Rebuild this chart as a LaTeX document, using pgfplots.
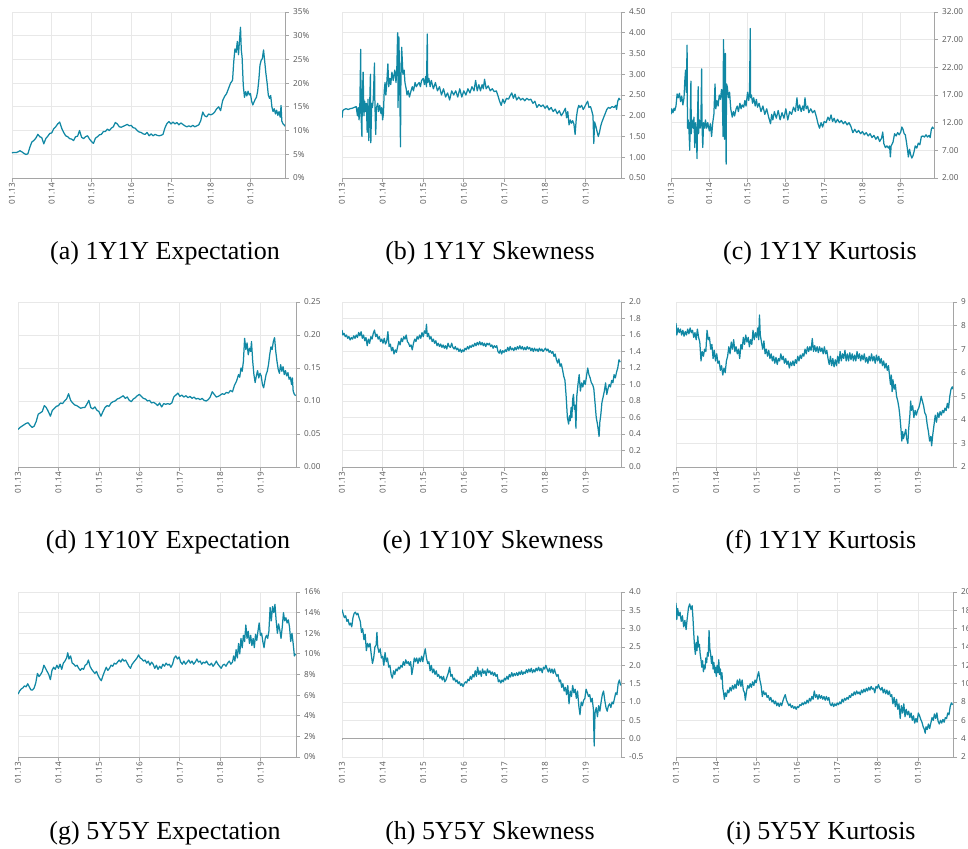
\documentclass[border=0pt]{standalone}
\usepackage{pgfplots}
\pgfplotsset{compat=1.18}
\usepackage{fontspec}
\setmainfont{Liberation Serif}
\newfontfamily\tickfont{Open Sans}
\definecolor{seriesc}{RGB}{17,136,164}
\definecolor{gridc}{RGB}{232,232,232}
\definecolor{axisc}{RGB}{165,165,165}
\definecolor{labc}{RGB}{85,85,85}
\pgfplotsset{
  panel/.style={
    scale only axis,
    anchor=south west,
    xmin=0, xmax=6.87,
    xtick={0,1,2,3,4,5,6},
    xticklabels={01.13,01.14,01.15,01.16,01.17,01.18,01.19},
    axis x line*=bottom,
    axis y line*=right,
    axis line style={axisc,-,line width=0.8pt},
    grid=major,
    grid style={gridc, line width=0.8pt},
    tick align=outside,
    major tick length=4pt,
    tick style={axisc, line width=0.8pt},
    ticklabel style={font=\tickfont\fontsize{8.2}{9.5}\selectfont, text=labc},
    xticklabel style={rotate=90, anchor=east, inner sep=1pt},
    yticklabel style={anchor=west, inner sep=2pt, xshift=2pt},
    every axis plot post/.append style={draw=seriesc, line width=1.25pt, mark=none, line join=round},
  },
}
\tikzset{captxt/.style={anchor=base, font=\fontsize{26}{30}\selectfont}}
\begin{document}
\begin{tikzpicture}[x=1pt,y=1pt]
\useasboundingbox (0,0) rectangle (968,848);
% (a)
\begin{axis}[panel, at={(12pt,670pt)}, width=273pt, height=166pt,
  ymin=0, ymax=35, ytick={0,5,10,15,20,25,30,35},
  yticklabels={0\%,5\%,10\%,15\%,20\%,25\%,30\%,35\%}]
\addplot coordinates {(0,5.3)(0.05,5.4)(0.1,5.35)(0.15,5.5)(0.2,5.75)(0.25,5.5)(0.3,5.2)(0.35,4.95)(0.4,5.1)(0.45,6.5)(0.5,7.6)(0.55,7.9)(0.6,8.4)(0.65,9.2)(0.7,8.7)(0.75,8.5)(0.8,7.2)(0.85,8.3)(0.9,8.8)(0.95,9.4)(1.0,9.5)(1.05,10.4)(1.1,10.8)(1.15,11.4)(1.2,11.8)(1.25,10.5)(1.3,9.6)(1.35,8.9)(1.4,8.7)(1.45,8.3)(1.5,8.2)(1.55,7.9)(1.6,8.7)(1.65,8.8)(1.7,10.0)(1.75,8.6)(1.8,8.3)(1.85,8.7)(1.9,8.9)(1.95,8.2)(2.0,7.7)(2.05,7.3)(2.1,8.4)(2.15,8.7)(2.2,9.1)(2.25,9.2)(2.3,9.8)(2.35,9.8)(2.4,10.3)(2.45,10.0)(2.5,10.5)(2.55,10.8)(2.6,11.7)(2.65,11.4)(2.7,10.8)(2.75,10.7)(2.8,10.9)(2.85,11.1)(2.9,11.3)(2.95,11.0)(3.0,11.1)(3.05,10.6)(3.1,10.5)(3.15,10.0)(3.2,9.7)(3.25,9.6)(3.3,9.3)(3.35,9.2)(3.4,9.6)(3.45,8.9)(3.5,9.3)(3.55,8.9)(3.6,9.2)(3.65,9.0)(3.7,8.9)(3.75,9.0)(3.8,9.2)(3.85,10.6)(3.9,11.5)(3.95,11.9)(4.0,11.4)(4.05,11.8)(4.1,11.4)(4.15,11.7)(4.2,11.2)(4.25,11.6)(4.3,11.3)(4.35,11.0)(4.4,10.8)(4.45,11.0)(4.5,10.8)(4.55,11.1)(4.6,10.8)(4.65,11.0)(4.7,11.2)(4.75,12.1)(4.8,13.9)(4.85,13.1)(4.9,12.9)(4.95,13.5)(5.0,13.3)(5.05,13.5)(5.1,13.9)(5.15,14.6)(5.2,15.0)(5.25,14.2)(5.3,16.3)(5.35,17.2)(5.4,17.8)(5.45,18.9)(5.5,20.0)(5.55,20.6)(5.58,24.5)(5.61,27.2)(5.64,26.5)(5.67,28.8)(5.7,26.0)(5.72,28.5)(5.75,31.8)(5.77,27.0)(5.79,25.5)(5.82,19.5)(5.85,17.0)(5.88,18.2)(5.91,17.3)(5.94,18.3)(5.97,17.5)(6.0,17.8)(6.03,16.2)(6.06,15.4)(6.09,16.0)(6.12,16.6)(6.15,17.0)(6.18,18.2)(6.21,20.5)(6.24,23.8)(6.27,24.8)(6.3,25.2)(6.33,27.0)(6.36,24.5)(6.39,22.0)(6.42,20.0)(6.45,17.5)(6.48,16.8)(6.51,17.4)(6.54,15.0)(6.57,14.0)(6.6,14.6)(6.63,13.5)(6.66,14.3)(6.69,13.2)(6.72,14.0)(6.75,12.8)(6.77,15.3)(6.79,12.0)(6.82,11.4)(6.85,11.2)(6.87,10.9)};
\end{axis}
% (b)
\begin{axis}[panel, at={(342pt,670pt)}, width=279pt, height=166pt,
  ymin=0.5, ymax=4.5, ytick={0.5,1,1.5,2,2.5,3,3.5,4,4.5},
  yticklabels={0.50,1.00,1.50,2.00,2.50,3.00,3.50,4.00,4.50}]
\addplot coordinates {(0,1.95)(0.02,2.12)(0.05,2.15)(0.1,2.17)(0.15,2.15)(0.2,2.17)(0.25,2.18)(0.3,2.2)(0.35,2.22)(0.38,2.0)(0.4,2.2)(0.42,1.9)(0.44,2.3)(0.46,3.6)(0.47,2.0)(0.49,1.5)(0.5,2.4)(0.52,3.05)(0.54,2.0)(0.56,2.35)(0.58,2.1)(0.6,2.3)(0.62,1.6)(0.64,2.4)(0.66,1.4)(0.68,2.2)(0.7,3.0)(0.71,1.35)(0.73,2.3)(0.75,2.2)(0.77,2.4)(0.8,3.27)(0.81,2.3)(0.83,1.55)(0.85,2.2)(0.88,2.3)(0.9,2.1)(0.93,2.25)(0.96,2.05)(0.98,2.2)(1.0,1.9)(1.02,2.05)(1.04,2.6)(1.06,2.8)(1.08,2.5)(1.1,2.75)(1.13,3.25)(1.15,2.7)(1.18,2.9)(1.2,2.75)(1.23,3.05)(1.26,2.85)(1.3,3.1)(1.33,2.8)(1.35,3.15)(1.37,4.0)(1.38,2.2)(1.4,3.9)(1.42,2.9)(1.44,1.25)(1.45,2.8)(1.47,3.65)(1.5,3.0)(1.53,3.1)(1.55,2.8)(1.58,2.65)(1.6,2.5)(1.63,2.6)(1.66,2.45)(1.7,2.6)(1.73,2.7)(1.76,2.6)(1.8,2.8)(1.83,2.7)(1.86,2.75)(1.9,2.8)(1.93,2.7)(1.96,2.85)(2.0,2.9)(2.03,2.75)(2.06,2.95)(2.08,2.7)(2.1,3.97)(2.11,2.8)(2.14,2.9)(2.17,2.7)(2.2,2.85)(2.25,2.65)(2.3,2.8)(2.35,2.6)(2.4,2.7)(2.45,2.5)(2.5,2.65)(2.55,2.45)(2.6,2.55)(2.65,2.38)(2.7,2.6)(2.75,2.5)(2.8,2.6)(2.85,2.45)(2.9,2.65)(2.95,2.45)(3.0,2.6)(3.05,2.5)(3.1,2.65)(3.15,2.55)(3.2,2.7)(3.25,2.6)(3.29,2.85)(3.33,2.6)(3.37,2.75)(3.41,2.6)(3.45,2.75)(3.48,2.65)(3.51,2.88)(3.55,2.65)(3.6,2.72)(3.65,2.6)(3.7,2.65)(3.75,2.58)(3.8,2.6)(3.85,2.45)(3.88,2.35)(3.92,2.25)(3.96,2.4)(4.0,2.3)(4.05,2.42)(4.1,2.4)(4.15,2.5)(4.18,2.55)(4.22,2.42)(4.26,2.52)(4.3,2.38)(4.35,2.45)(4.4,2.38)(4.45,2.42)(4.5,2.36)(4.55,2.42)(4.6,2.38)(4.65,2.4)(4.7,2.3)(4.75,2.35)(4.8,2.2)(4.85,2.27)(4.9,2.22)(4.95,2.26)(5.0,2.18)(5.05,2.24)(5.1,2.14)(5.15,2.2)(5.2,2.1)(5.25,2.16)(5.3,2.05)(5.35,2.12)(5.4,2.0)(5.45,2.08)(5.5,2.18)(5.53,1.95)(5.56,2.1)(5.59,1.78)(5.62,1.9)(5.65,1.82)(5.68,1.88)(5.71,1.8)(5.74,1.55)(5.77,1.95)(5.8,2.15)(5.83,2.25)(5.86,2.2)(5.9,2.25)(5.94,2.15)(5.98,2.22)(6.02,2.3)(6.05,2.35)(6.08,2.2)(6.12,2.22)(6.15,2.12)(6.18,2.0)(6.2,1.33)(6.22,1.85)(6.25,1.75)(6.28,1.62)(6.31,1.5)(6.34,1.6)(6.37,1.75)(6.4,1.85)(6.44,1.95)(6.48,2.05)(6.52,2.15)(6.56,2.2)(6.6,2.18)(6.65,2.22)(6.7,2.2)(6.74,2.25)(6.76,2.15)(6.79,2.35)(6.82,2.42)(6.85,2.38)};
\end{axis}
% (c)
\begin{axis}[panel, at={(671pt,670pt)}, width=263pt, height=166pt,
  ymin=2, ymax=32, ytick={2,7,12,17,22,27,32},
  yticklabels={2.00,7.00,12.00,17.00,22.00,27.00,32.00}]
\addplot coordinates {(0,13.5)(0.02,14.5)(0.05,13.8)(0.08,14.6)(0.1,14.2)(0.13,15.0)(0.16,17.2)(0.19,16.5)(0.22,17.3)(0.25,15.8)(0.28,16.8)(0.31,15.2)(0.34,16.5)(0.36,19.5)(0.38,21.5)(0.4,17.5)(0.42,26.0)(0.43,11.0)(0.45,12.5)(0.47,10.5)(0.49,7.0)(0.5,12.5)(0.52,19.5)(0.53,10.0)(0.55,12.5)(0.58,11.0)(0.6,13.0)(0.62,7.5)(0.64,12.0)(0.66,10.5)(0.68,5.5)(0.69,12.0)(0.71,18.5)(0.72,10.0)(0.74,12.5)(0.76,11.0)(0.78,12.0)(0.8,21.7)(0.81,11.5)(0.83,7.5)(0.85,12.0)(0.88,11.0)(0.9,12.5)(0.93,11.0)(0.96,12.0)(1.0,10.5)(1.03,11.8)(1.06,9.5)(1.09,12.0)(1.12,13.5)(1.15,19.0)(1.17,14.5)(1.2,16.0)(1.23,15.0)(1.26,17.0)(1.29,16.2)(1.32,18.0)(1.34,17.0)(1.36,9.5)(1.37,27.0)(1.39,19.0)(1.4,9.0)(1.42,24.5)(1.44,4.5)(1.45,19.0)(1.47,18.5)(1.5,16.5)(1.53,17.5)(1.56,14.5)(1.6,13.0)(1.63,14.0)(1.66,13.2)(1.7,14.5)(1.73,15.0)(1.76,14.0)(1.8,15.5)(1.83,14.5)(1.86,15.2)(1.9,14.8)(1.93,16.0)(1.96,15.0)(2.0,17.5)(2.03,16.0)(2.05,17.2)(2.07,29.0)(2.08,16.5)(2.1,17.0)(2.13,15.5)(2.16,16.5)(2.2,15.0)(2.23,16.2)(2.26,14.8)(2.3,15.5)(2.35,14.0)(2.4,15.0)(2.45,13.5)(2.5,14.5)(2.55,13.0)(2.6,11.8)(2.63,13.5)(2.66,12.5)(2.7,14.0)(2.75,12.8)(2.8,14.2)(2.85,12.5)(2.9,13.8)(2.95,12.8)(3.0,14.5)(3.05,12.5)(3.1,14.0)(3.15,13.5)(3.2,14.8)(3.25,14.0)(3.29,16.5)(3.32,14.2)(3.36,15.2)(3.4,14.0)(3.44,15.0)(3.47,14.2)(3.5,16.5)(3.53,14.5)(3.57,15.0)(3.6,13.8)(3.65,14.5)(3.7,13.8)(3.75,14.2)(3.8,13.0)(3.84,11.8)(3.88,11.0)(3.92,12.0)(3.96,11.2)(4.0,12.2)(4.05,12.0)(4.1,13.0)(4.14,12.4)(4.18,13.4)(4.22,12.2)(4.26,12.8)(4.3,12.0)(4.35,12.6)(4.4,12.0)(4.45,12.4)(4.5,11.8)(4.55,12.2)(4.6,11.6)(4.65,12.0)(4.7,11.3)(4.75,10.2)(4.8,10.8)(4.85,10.2)(4.9,10.6)(4.95,10.0)(5.0,10.4)(5.05,9.8)(5.1,10.2)(5.15,9.6)(5.2,10.0)(5.25,9.3)(5.3,9.7)(5.35,9.0)(5.4,9.5)(5.45,8.6)(5.5,9.2)(5.53,10.3)(5.56,8.2)(5.6,7.5)(5.64,7.8)(5.68,7.4)(5.71,7.8)(5.73,5.8)(5.75,7.8)(5.8,8.5)(5.84,10.0)(5.88,9.6)(5.92,10.2)(5.96,9.8)(6.0,10.3)(6.03,11.2)(6.06,10.8)(6.09,10.0)(6.12,9.8)(6.15,8.5)(6.18,7.0)(6.2,5.8)(6.23,7.2)(6.26,6.2)(6.29,5.6)(6.32,6.0)(6.35,6.8)(6.38,7.8)(6.42,7.4)(6.46,8.3)(6.5,8.0)(6.54,9.5)(6.58,9.6)(6.62,9.4)(6.66,9.8)(6.7,9.4)(6.74,9.7)(6.77,9.3)(6.8,10.8)(6.83,11.2)(6.86,10.9)};
\end{axis}
% (d)
\begin{axis}[panel, at={(18pt,381pt)}, width=278pt, height=165pt,
  ymin=0, ymax=0.25, ytick={0,0.05,0.1,0.15,0.2,0.25},
  yticklabels={0.00,0.05,0.10,0.15,0.20,0.25}]
\addplot coordinates {(0,0.057)(0.05,0.06)(0.1,0.062)(0.15,0.064)(0.2,0.066)(0.25,0.067)(0.3,0.063)(0.35,0.06)(0.4,0.062)(0.45,0.069)(0.5,0.08)(0.55,0.082)(0.6,0.084)(0.65,0.093)(0.7,0.09)(0.75,0.084)(0.8,0.077)(0.85,0.086)(0.9,0.089)(0.95,0.092)(1.0,0.093)(1.05,0.097)(1.1,0.096)(1.15,0.1)(1.2,0.103)(1.25,0.111)(1.3,0.101)(1.35,0.097)(1.4,0.094)(1.45,0.093)(1.5,0.091)(1.55,0.089)(1.6,0.09)(1.65,0.09)(1.7,0.095)(1.75,0.101)(1.8,0.09)(1.85,0.088)(1.9,0.091)(1.95,0.086)(2.0,0.084)(2.05,0.077)(2.1,0.084)(2.15,0.09)(2.2,0.093)(2.25,0.092)(2.3,0.097)(2.35,0.099)(2.4,0.1)(2.45,0.103)(2.5,0.104)(2.55,0.106)(2.6,0.108)(2.65,0.104)(2.7,0.106)(2.75,0.101)(2.8,0.099)(2.85,0.103)(2.9,0.105)(2.95,0.108)(3.0,0.11)(3.05,0.107)(3.1,0.104)(3.15,0.103)(3.2,0.1)(3.25,0.101)(3.3,0.097)(3.35,0.098)(3.4,0.096)(3.45,0.093)(3.5,0.097)(3.55,0.091)(3.6,0.096)(3.65,0.095)(3.7,0.096)(3.75,0.095)(3.8,0.097)(3.85,0.106)(3.9,0.109)(3.95,0.112)(4.0,0.107)(4.05,0.109)(4.1,0.106)(4.15,0.108)(4.2,0.105)(4.25,0.107)(4.3,0.104)(4.35,0.106)(4.4,0.103)(4.45,0.104)(4.5,0.102)(4.55,0.104)(4.6,0.101)(4.65,0.1)(4.7,0.102)(4.75,0.106)(4.8,0.114)(4.85,0.11)(4.9,0.106)(4.95,0.107)(5.0,0.109)(5.05,0.111)(5.1,0.11)(5.15,0.113)(5.2,0.112)(5.25,0.116)(5.3,0.114)(5.35,0.124)(5.4,0.13)(5.45,0.14)(5.48,0.136)(5.51,0.15)(5.54,0.145)(5.57,0.16)(5.6,0.195)(5.63,0.178)(5.66,0.188)(5.69,0.17)(5.72,0.18)(5.75,0.175)(5.77,0.19)(5.8,0.16)(5.83,0.14)(5.86,0.128)(5.89,0.138)(5.92,0.146)(5.95,0.135)(5.98,0.142)(6.01,0.138)(6.04,0.125)(6.07,0.12)(6.1,0.13)(6.13,0.14)(6.16,0.145)(6.19,0.155)(6.22,0.17)(6.25,0.182)(6.28,0.178)(6.31,0.19)(6.34,0.196)(6.37,0.175)(6.4,0.16)(6.43,0.148)(6.46,0.142)(6.49,0.155)(6.52,0.145)(6.55,0.152)(6.58,0.14)(6.61,0.146)(6.64,0.138)(6.67,0.143)(6.7,0.133)(6.73,0.136)(6.76,0.125)(6.78,0.135)(6.8,0.115)(6.83,0.11)(6.86,0.108)};
\end{axis}
% (e)
\begin{axis}[panel, at={(342pt,381pt)}, width=279pt, height=165pt,
  ymin=0, ymax=2, ytick={0,0.2,0.4,0.6,0.8,1,1.2,1.4,1.6,1.8,2},
  yticklabels={0.0,0.2,0.4,0.6,0.8,1.0,1.2,1.4,1.6,1.8,2.0}]
\addplot coordinates {(0,1.66)(0.02,1.6)(0.05,1.62)(0.08,1.58)(0.11,1.6)(0.14,1.56)(0.17,1.58)(0.2,1.54)(0.23,1.57)(0.26,1.55)(0.29,1.59)(0.32,1.56)(0.35,1.6)(0.38,1.57)(0.41,1.63)(0.44,1.59)(0.47,1.64)(0.5,1.56)(0.53,1.6)(0.56,1.53)(0.59,1.57)(0.62,1.47)(0.65,1.55)(0.68,1.5)(0.71,1.58)(0.74,1.55)(0.77,1.62)(0.8,1.66)(0.83,1.58)(0.86,1.61)(0.89,1.55)(0.92,1.58)(0.95,1.52)(0.98,1.55)(1.01,1.5)(1.04,1.56)(1.07,1.49)(1.1,1.52)(1.13,1.64)(1.16,1.46)(1.19,1.49)(1.22,1.41)(1.25,1.45)(1.28,1.37)(1.31,1.42)(1.34,1.39)(1.37,1.46)(1.4,1.52)(1.43,1.48)(1.46,1.56)(1.49,1.52)(1.52,1.58)(1.55,1.55)(1.58,1.6)(1.61,1.52)(1.64,1.5)(1.67,1.46)(1.7,1.48)(1.73,1.42)(1.76,1.5)(1.79,1.55)(1.82,1.52)(1.85,1.58)(1.88,1.55)(1.91,1.6)(1.94,1.56)(1.97,1.63)(2.0,1.58)(2.03,1.65)(2.06,1.62)(2.08,1.73)(2.1,1.58)(2.13,1.62)(2.16,1.55)(2.19,1.58)(2.22,1.52)(2.25,1.55)(2.28,1.5)(2.31,1.53)(2.34,1.47)(2.37,1.5)(2.4,1.46)(2.43,1.49)(2.46,1.45)(2.49,1.48)(2.52,1.44)(2.55,1.47)(2.58,1.43)(2.61,1.5)(2.64,1.46)(2.67,1.45)(2.7,1.5)(2.73,1.45)(2.76,1.43)(2.79,1.46)(2.82,1.42)(2.85,1.44)(2.88,1.4)(2.91,1.43)(2.94,1.39)(2.97,1.42)(3.0,1.4)(3.03,1.44)(3.06,1.42)(3.09,1.46)(3.12,1.43)(3.15,1.47)(3.18,1.45)(3.21,1.48)(3.24,1.46)(3.27,1.5)(3.3,1.47)(3.33,1.51)(3.36,1.48)(3.39,1.52)(3.42,1.48)(3.45,1.51)(3.48,1.47)(3.51,1.5)(3.54,1.46)(3.57,1.5)(3.6,1.48)(3.63,1.5)(3.66,1.46)(3.69,1.48)(3.72,1.44)(3.75,1.47)(3.78,1.45)(3.81,1.47)(3.84,1.4)(3.87,1.38)(3.9,1.42)(3.93,1.37)(3.96,1.41)(3.99,1.39)(4.02,1.42)(4.05,1.4)(4.08,1.45)(4.11,1.41)(4.14,1.46)(4.17,1.42)(4.2,1.44)(4.23,1.41)(4.26,1.45)(4.29,1.42)(4.32,1.46)(4.35,1.43)(4.38,1.47)(4.41,1.43)(4.44,1.46)(4.47,1.42)(4.5,1.45)(4.53,1.42)(4.56,1.46)(4.59,1.43)(4.62,1.45)(4.65,1.41)(4.68,1.44)(4.71,1.4)(4.74,1.44)(4.77,1.41)(4.8,1.43)(4.83,1.4)(4.86,1.44)(4.89,1.41)(4.92,1.43)(4.95,1.4)(4.98,1.42)(5.01,1.44)(5.04,1.41)(5.07,1.43)(5.1,1.39)(5.13,1.41)(5.16,1.38)(5.19,1.4)(5.22,1.34)(5.25,1.37)(5.28,1.3)(5.31,1.26)(5.34,1.31)(5.37,1.22)(5.4,1.25)(5.43,1.18)(5.46,1.1)(5.49,1.05)(5.52,0.85)(5.55,0.6)(5.58,0.52)(5.6,0.62)(5.62,0.56)(5.64,0.72)(5.66,0.6)(5.68,0.82)(5.7,0.88)(5.72,0.7)(5.74,0.75)(5.76,0.47)(5.78,0.85)(5.81,1.0)(5.84,1.12)(5.87,0.92)(5.9,1.02)(5.93,0.97)(5.96,1.05)(5.99,1.0)(6.02,1.1)(6.05,1.2)(6.08,1.12)(6.11,1.08)(6.14,1.02)(6.17,1.0)(6.2,0.95)(6.23,0.78)(6.26,0.6)(6.29,0.52)(6.31,0.45)(6.33,0.37)(6.35,0.55)(6.37,0.62)(6.4,0.78)(6.43,0.85)(6.46,0.92)(6.49,1.02)(6.52,0.88)(6.55,0.95)(6.58,1.0)(6.61,0.97)(6.64,1.05)(6.67,1.02)(6.7,1.12)(6.73,1.08)(6.76,1.15)(6.79,1.2)(6.82,1.3)(6.85,1.27)};
\end{axis}
% (f)
\begin{axis}[panel, at={(676pt,381pt)}, width=277pt, height=165pt,
  ymin=2, ymax=9, ytick={2,3,4,5,6,7,8,9},
  yticklabels={2,3,4,5,6,7,8,9}]
\addplot coordinates {(0,8.1)(0.02,7.6)(0.05,7.9)(0.08,7.7)(0.11,7.85)(0.14,7.6)(0.17,7.8)(0.2,7.55)(0.23,7.75)(0.26,7.6)(0.29,7.85)(0.32,7.65)(0.35,7.9)(0.38,7.7)(0.41,7.8)(0.44,7.5)(0.47,7.7)(0.5,7.4)(0.53,7.85)(0.56,7.5)(0.59,7.3)(0.62,6.5)(0.65,6.9)(0.68,6.7)(0.71,7.0)(0.74,6.9)(0.77,7.8)(0.8,7.4)(0.83,7.5)(0.86,7.0)(0.89,7.2)(0.92,6.6)(0.95,6.95)(0.98,6.5)(1.01,6.8)(1.04,6.4)(1.07,6.5)(1.1,6.1)(1.13,6.3)(1.16,5.9)(1.19,6.2)(1.22,6.0)(1.25,6.5)(1.28,6.7)(1.31,7.1)(1.34,6.8)(1.37,7.3)(1.4,7.0)(1.43,7.4)(1.46,6.9)(1.49,7.1)(1.52,6.8)(1.55,7.0)(1.58,6.6)(1.61,7.2)(1.64,7.0)(1.67,7.5)(1.7,7.2)(1.73,7.6)(1.76,7.3)(1.79,7.5)(1.82,7.1)(1.85,7.4)(1.88,7.2)(1.91,7.8)(1.94,7.4)(1.97,7.7)(2.0,7.5)(2.03,7.9)(2.05,7.4)(2.07,8.45)(2.09,7.6)(2.12,7.3)(2.15,7.0)(2.18,7.35)(2.21,6.8)(2.24,7.0)(2.27,6.7)(2.3,6.95)(2.33,6.6)(2.36,6.8)(2.39,6.5)(2.42,6.7)(2.45,6.4)(2.48,6.65)(2.51,6.35)(2.54,6.6)(2.57,6.5)(2.6,6.8)(2.63,6.55)(2.66,6.7)(2.69,6.4)(2.72,6.6)(2.75,6.35)(2.78,6.5)(2.81,6.2)(2.84,6.45)(2.87,6.3)(2.9,6.5)(2.93,6.3)(2.96,6.55)(2.99,6.4)(3.02,6.7)(3.05,6.5)(3.08,6.75)(3.11,6.6)(3.14,6.8)(3.17,6.7)(3.2,7.0)(3.23,6.8)(3.26,7.1)(3.29,6.9)(3.32,7.1)(3.35,6.95)(3.38,7.45)(3.41,6.9)(3.44,7.15)(3.47,6.9)(3.5,7.1)(3.53,6.85)(3.56,7.1)(3.59,6.9)(3.62,7.05)(3.65,6.8)(3.68,7.1)(3.71,6.8)(3.74,6.95)(3.77,6.6)(3.8,6.35)(3.83,6.7)(3.86,6.3)(3.89,6.6)(3.92,6.25)(3.95,6.55)(3.98,6.3)(4.01,6.7)(4.04,6.4)(4.07,6.9)(4.1,6.5)(4.13,6.8)(4.16,6.6)(4.19,6.95)(4.22,6.5)(4.25,6.8)(4.28,6.5)(4.31,6.85)(4.34,6.55)(4.37,6.8)(4.4,6.5)(4.43,6.75)(4.46,6.5)(4.49,6.9)(4.52,6.6)(4.55,6.8)(4.58,6.5)(4.61,6.75)(4.64,6.55)(4.67,6.8)(4.7,6.45)(4.73,6.65)(4.76,6.4)(4.79,6.7)(4.82,6.5)(4.85,6.8)(4.88,6.5)(4.91,6.7)(4.94,6.4)(4.97,6.75)(5.0,6.5)(5.03,6.7)(5.06,6.4)(5.09,6.6)(5.12,6.3)(5.15,6.5)(5.18,6.2)(5.21,6.4)(5.24,6.1)(5.27,6.3)(5.3,5.8)(5.32,5.5)(5.34,5.9)(5.36,5.2)(5.38,5.7)(5.41,5.3)(5.44,5.5)(5.47,5.0)(5.5,4.8)(5.53,4.5)(5.55,4.2)(5.58,3.6)(5.6,3.1)(5.62,3.5)(5.64,3.2)(5.67,3.4)(5.7,3.6)(5.72,3.2)(5.75,3.0)(5.77,3.6)(5.8,4.2)(5.82,4.8)(5.84,4.4)(5.87,4.6)(5.9,4.1)(5.93,4.4)(5.96,4.2)(5.99,4.4)(6.02,4.5)(6.05,4.7)(6.08,5.0)(6.11,4.8)(6.14,4.6)(6.17,4.3)(6.2,4.2)(6.23,3.8)(6.26,3.5)(6.29,3.1)(6.32,3.3)(6.34,2.9)(6.37,3.4)(6.4,3.8)(6.43,4.2)(6.46,3.9)(6.49,4.3)(6.52,4.1)(6.55,4.35)(6.58,4.2)(6.61,4.4)(6.64,4.3)(6.67,4.5)(6.7,4.4)(6.73,4.7)(6.76,4.5)(6.79,5.0)(6.82,5.3)(6.85,5.4)(6.87,5.3)};
\end{axis}
% (g)
\begin{axis}[panel, at={(18pt,91pt)}, width=278pt, height=165pt,
  ymin=0, ymax=16, ytick={0,2,4,6,8,10,12,14,16},
  yticklabels={0\%,2\%,4\%,6\%,8\%,10\%,12\%,14\%,16\%}]
\addplot coordinates {(0,6.1)(0.04,6.4)(0.08,6.6)(0.12,6.7)(0.16,6.9)(0.2,6.8)(0.24,7.1)(0.28,6.8)(0.32,6.5)(0.36,6.5)(0.4,6.7)(0.44,7.2)(0.48,8.1)(0.52,7.8)(0.56,8.0)(0.6,8.3)(0.64,8.9)(0.68,8.6)(0.72,8.3)(0.76,8.0)(0.8,7.5)(0.84,8.4)(0.88,8.7)(0.92,8.5)(0.96,8.9)(1.0,8.6)(1.04,9.0)(1.08,8.5)(1.12,9.1)(1.16,9.3)(1.2,9.6)(1.23,10.1)(1.26,9.5)(1.3,9.8)(1.34,9.1)(1.38,9.0)(1.42,8.8)(1.46,8.9)(1.5,8.6)(1.54,8.4)(1.58,8.6)(1.62,8.5)(1.66,8.9)(1.7,9.0)(1.74,9.4)(1.78,8.8)(1.82,8.5)(1.86,8.3)(1.9,8.1)(1.94,8.3)(1.98,7.9)(2.02,7.6)(2.06,7.4)(2.1,7.9)(2.14,8.3)(2.18,8.7)(2.22,8.4)(2.26,8.6)(2.3,8.9)(2.34,8.8)(2.38,9.1)(2.42,9.0)(2.46,9.2)(2.5,9.4)(2.54,9.2)(2.58,9.5)(2.62,9.3)(2.66,9.4)(2.7,9.1)(2.74,8.8)(2.78,8.6)(2.82,9.0)(2.86,9.2)(2.9,9.4)(2.94,9.6)(2.98,9.9)(3.02,9.6)(3.06,9.5)(3.1,9.3)(3.14,9.4)(3.18,9.1)(3.22,9.3)(3.26,8.9)(3.3,9.2)(3.34,9.0)(3.38,8.6)(3.42,8.9)(3.46,8.5)(3.5,8.8)(3.54,8.6)(3.58,9.0)(3.62,8.8)(3.66,9.1)(3.7,8.9)(3.74,9.0)(3.78,8.7)(3.82,9.0)(3.86,9.6)(3.9,9.8)(3.94,9.5)(3.98,9.7)(4.02,9.2)(4.06,9.0)(4.1,9.3)(4.14,9.0)(4.18,9.2)(4.22,9.4)(4.26,9.1)(4.3,9.3)(4.34,9.0)(4.38,9.2)(4.42,9.5)(4.46,9.2)(4.5,9.3)(4.54,9.0)(4.58,9.2)(4.62,9.1)(4.66,9.3)(4.7,9.0)(4.74,8.9)(4.78,9.1)(4.82,8.8)(4.86,9.0)(4.9,9.3)(4.94,9.0)(4.98,8.8)(5.02,8.6)(5.06,8.9)(5.1,9.0)(5.14,8.8)(5.18,9.1)(5.22,9.3)(5.26,9.0)(5.3,9.2)(5.33,9.8)(5.36,9.3)(5.39,10.4)(5.42,9.6)(5.45,11.0)(5.48,10.0)(5.51,11.5)(5.54,10.6)(5.57,11.8)(5.6,11.2)(5.63,12.8)(5.66,11.5)(5.69,12.2)(5.72,11.0)(5.75,11.8)(5.78,10.8)(5.81,11.5)(5.84,10.6)(5.87,11.9)(5.9,11.3)(5.93,12.2)(5.96,13.0)(5.99,11.8)(6.02,12.0)(6.05,11.2)(6.08,10.6)(6.11,11.5)(6.14,11.8)(6.17,11.5)(6.2,12.2)(6.23,14.5)(6.26,13.2)(6.29,14.6)(6.32,14.0)(6.35,14.8)(6.38,13.2)(6.41,12.0)(6.44,12.9)(6.47,12.3)(6.5,11.5)(6.53,12.6)(6.56,14.0)(6.59,13.2)(6.62,13.5)(6.65,13.0)(6.68,13.3)(6.71,12.6)(6.74,11.2)(6.77,12.0)(6.8,11.0)(6.83,9.8)(6.86,10.0)};
\end{axis}
% (h)
\begin{axis}[panel, at={(342pt,91pt)}, width=279pt, height=165pt,
  ymin=-0.5, ymax=4, ytick={-0.5,0,0.5,1,1.5,2,2.5,3,3.5,4},
  yticklabels={-0.5,0.0,0.5,1.0,1.5,2.0,2.5,3.0,3.5,4.0},
  x axis line style={draw=none}, xtick style={draw=none}]
\draw[axisc, line width=0.8pt] (axis cs:0,0) -- (axis cs:6.87,0);
\pgfplotsinvokeforeach{0,1,2,3,4,5,6}{\draw[axisc, line width=0.8pt] (axis cs:#1,0) -- (axis cs:#1,-0.035);}
\addplot coordinates {(0,3.52)(0.03,3.4)(0.06,3.3)(0.09,3.35)(0.12,3.2)(0.15,3.25)(0.18,3.1)(0.21,3.15)(0.24,3.05)(0.27,3.3)(0.3,3.42)(0.33,3.45)(0.36,3.38)(0.39,3.42)(0.42,3.3)(0.45,3.2)(0.48,2.9)(0.51,3.0)(0.54,2.7)(0.57,2.85)(0.6,2.4)(0.63,2.6)(0.66,2.5)(0.69,2.6)(0.72,2.3)(0.75,2.05)(0.78,2.2)(0.81,2.5)(0.84,2.55)(0.86,2.9)(0.88,2.5)(0.91,2.35)(0.94,2.45)(0.97,2.2)(1.0,2.25)(1.03,2.0)(1.06,2.35)(1.09,2.1)(1.12,2.2)(1.15,1.95)(1.18,2.0)(1.21,1.75)(1.24,1.65)(1.27,1.85)(1.3,1.75)(1.33,1.9)(1.36,1.85)(1.39,1.95)(1.42,1.9)(1.45,2.0)(1.48,1.95)(1.51,2.1)(1.54,2.0)(1.57,2.15)(1.6,2.05)(1.63,2.1)(1.66,2.0)(1.69,2.1)(1.72,1.75)(1.75,1.95)(1.78,2.2)(1.81,2.1)(1.84,2.2)(1.87,2.05)(1.9,2.2)(1.93,2.1)(1.96,2.25)(1.99,2.1)(2.02,2.3)(2.05,2.45)(2.08,2.2)(2.11,2.05)(2.14,2.1)(2.17,1.85)(2.2,2.0)(2.23,1.8)(2.26,1.9)(2.29,1.75)(2.32,1.85)(2.35,1.7)(2.38,1.75)(2.41,1.65)(2.44,1.7)(2.47,1.6)(2.5,1.7)(2.53,1.55)(2.56,1.6)(2.59,1.7)(2.62,1.8)(2.65,1.95)(2.68,1.7)(2.71,1.75)(2.74,1.6)(2.77,1.65)(2.8,1.55)(2.83,1.6)(2.86,1.5)(2.89,1.55)(2.92,1.45)(2.95,1.5)(2.98,1.42)(3.01,1.5)(3.04,1.55)(3.07,1.52)(3.1,1.62)(3.13,1.58)(3.16,1.7)(3.19,1.62)(3.22,1.75)(3.25,1.68)(3.28,1.85)(3.31,1.7)(3.34,1.95)(3.37,1.75)(3.4,1.85)(3.43,1.7)(3.46,1.9)(3.49,1.78)(3.52,1.85)(3.55,1.72)(3.58,1.9)(3.61,1.8)(3.64,1.85)(3.67,1.75)(3.7,1.82)(3.73,1.72)(3.76,1.8)(3.79,1.7)(3.82,1.75)(3.85,1.55)(3.88,1.6)(3.91,1.52)(3.94,1.6)(3.97,1.55)(4.0,1.65)(4.03,1.6)(4.06,1.7)(4.09,1.62)(4.12,1.75)(4.15,1.68)(4.18,1.8)(4.21,1.7)(4.24,1.78)(4.27,1.72)(4.3,1.8)(4.33,1.72)(4.36,1.82)(4.39,1.75)(4.42,1.85)(4.45,1.75)(4.48,1.82)(4.51,1.78)(4.54,1.88)(4.57,1.8)(4.6,1.9)(4.63,1.82)(4.66,1.92)(4.69,1.8)(4.72,1.88)(4.75,1.82)(4.78,1.92)(4.81,1.85)(4.84,1.95)(4.87,1.85)(4.9,1.92)(4.93,1.8)(4.96,1.95)(4.99,1.9)(5.02,2.0)(5.05,1.9)(5.08,1.82)(5.11,1.92)(5.14,1.8)(5.17,1.9)(5.2,1.78)(5.23,1.9)(5.26,1.78)(5.29,1.7)(5.32,1.75)(5.35,1.55)(5.38,1.6)(5.41,1.4)(5.44,1.5)(5.47,1.3)(5.5,1.4)(5.53,1.2)(5.56,1.45)(5.59,0.95)(5.62,1.3)(5.65,1.15)(5.68,1.45)(5.71,1.25)(5.74,1.35)(5.77,1.1)(5.8,1.3)(5.83,0.9)(5.86,0.65)(5.89,1.0)(5.92,0.9)(5.95,1.05)(5.98,1.1)(6.01,1.35)(6.04,1.25)(6.07,1.15)(6.1,1.2)(6.13,1.0)(6.16,1.1)(6.19,0.8)(6.21,-0.2)(6.23,0.7)(6.26,0.85)(6.29,0.6)(6.32,0.9)(6.35,0.75)(6.38,1.0)(6.41,1.2)(6.44,1.3)(6.47,1.05)(6.5,0.85)(6.53,0.75)(6.56,0.9)(6.59,0.95)(6.62,0.85)(6.65,1.0)(6.68,0.95)(6.71,1.1)(6.74,1.25)(6.77,1.2)(6.8,1.5)(6.83,1.6)(6.86,1.45)};
\end{axis}
% (i)
\begin{axis}[panel, at={(676pt,91pt)}, width=277pt, height=165pt,
  ymin=2, ymax=20, ytick={2,4,6,8,10,12,14,16,18,20},
  yticklabels={2,4,6,8,10,12,14,16,18,20}]
\addplot coordinates {(0,18.8)(0.02,17.0)(0.04,18.2)(0.07,17.4)(0.1,17.8)(0.13,16.8)(0.16,17.4)(0.19,16.2)(0.22,16.9)(0.25,15.9)(0.28,17.2)(0.31,18.3)(0.34,18.7)(0.37,18.1)(0.4,18.5)(0.42,17.2)(0.44,15.5)(0.46,14.0)(0.48,13.2)(0.5,14.5)(0.52,13.6)(0.54,15.2)(0.56,14.0)(0.58,14.3)(0.6,13.2)(0.62,12.6)(0.64,11.8)(0.66,12.5)(0.68,11.3)(0.7,12.0)(0.72,11.6)(0.74,12.8)(0.76,12.3)(0.78,13.4)(0.8,13.0)(0.82,15.8)(0.84,13.8)(0.86,13.2)(0.88,12.2)(0.9,13.0)(0.92,11.6)(0.94,12.3)(0.96,11.2)(0.98,11.8)(1.0,10.8)(1.02,12.0)(1.04,11.2)(1.06,12.6)(1.08,11.0)(1.1,11.6)(1.12,10.5)(1.14,11.2)(1.16,9.5)(1.18,9.0)(1.2,8.3)(1.22,9.0)(1.25,8.6)(1.28,9.3)(1.31,9.0)(1.34,9.6)(1.37,9.2)(1.4,9.8)(1.43,9.4)(1.46,9.9)(1.49,9.5)(1.52,10.4)(1.55,9.8)(1.58,10.5)(1.61,9.7)(1.64,10.4)(1.67,9.3)(1.7,9.0)(1.72,8.2)(1.75,9.2)(1.78,9.8)(1.81,9.5)(1.84,10.0)(1.87,9.6)(1.9,10.2)(1.93,9.8)(1.96,10.4)(1.99,10.1)(2.02,10.8)(2.05,11.3)(2.08,10.4)(2.11,9.8)(2.14,8.6)(2.17,9.2)(2.2,8.8)(2.23,9.0)(2.26,8.5)(2.29,8.7)(2.32,8.2)(2.35,8.5)(2.38,8.0)(2.41,8.2)(2.44,7.8)(2.47,8.1)(2.5,7.6)(2.53,7.9)(2.56,7.5)(2.59,7.9)(2.62,7.6)(2.65,8.1)(2.68,8.5)(2.71,8.8)(2.74,8.2)(2.77,7.9)(2.8,7.6)(2.83,7.8)(2.86,7.4)(2.89,7.6)(2.92,7.3)(2.95,7.5)(2.98,7.2)(3.01,7.5)(3.04,7.4)(3.07,7.7)(3.1,7.6)(3.13,7.9)(3.16,7.7)(3.19,8.0)(3.22,7.8)(3.25,8.2)(3.28,7.9)(3.31,8.4)(3.34,8.1)(3.37,8.6)(3.4,8.3)(3.43,9.2)(3.46,8.5)(3.49,8.8)(3.52,8.3)(3.55,8.8)(3.58,8.4)(3.61,8.7)(3.64,8.3)(3.67,8.6)(3.7,8.2)(3.73,8.6)(3.76,8.2)(3.79,8.5)(3.82,7.8)(3.85,7.6)(3.88,7.9)(3.91,7.5)(3.94,7.8)(3.97,7.6)(4.0,7.9)(4.03,7.7)(4.06,8.0)(4.09,7.8)(4.12,8.3)(4.15,8.0)(4.18,8.4)(4.21,8.2)(4.24,8.5)(4.27,8.3)(4.3,8.7)(4.33,8.5)(4.36,8.9)(4.39,8.7)(4.42,9.1)(4.45,8.8)(4.48,9.2)(4.51,8.9)(4.54,9.1)(4.57,8.8)(4.6,9.3)(4.63,9.0)(4.66,9.4)(4.69,9.1)(4.72,9.5)(4.75,9.2)(4.78,9.6)(4.81,9.3)(4.84,9.7)(4.87,9.4)(4.9,9.5)(4.93,9.0)(4.96,9.7)(4.99,9.5)(5.02,9.9)(5.05,9.5)(5.08,9.3)(5.11,9.6)(5.14,9.0)(5.17,9.4)(5.2,8.9)(5.23,9.3)(5.26,8.8)(5.29,9.2)(5.32,8.6)(5.35,8.8)(5.38,7.8)(5.41,8.5)(5.44,7.5)(5.47,8.3)(5.5,7.2)(5.53,7.8)(5.56,6.2)(5.59,7.6)(5.62,6.8)(5.65,7.8)(5.68,6.4)(5.71,7.2)(5.74,6.6)(5.77,7.0)(5.8,6.3)(5.83,6.8)(5.86,6.0)(5.89,6.5)(5.92,5.7)(5.95,6.2)(5.98,5.8)(6.01,6.8)(6.04,6.5)(6.07,6.1)(6.1,5.8)(6.13,5.3)(6.16,5.0)(6.18,4.6)(6.2,5.3)(6.23,5.0)(6.26,5.6)(6.29,5.1)(6.32,5.7)(6.35,6.3)(6.38,6.0)(6.41,6.7)(6.44,6.2)(6.47,6.8)(6.5,5.9)(6.53,5.6)(6.56,6.0)(6.59,5.7)(6.62,6.1)(6.65,5.8)(6.68,6.3)(6.71,6.2)(6.74,6.8)(6.77,6.6)(6.8,7.5)(6.83,7.9)(6.86,7.7)};
\end{axis}
% captions
\node[captxt] at (165pt,588pt) {(a) 1Y1Y Expectation};
\node[captxt] at (490pt,588pt) {(b) 1Y1Y Skewness};
\node[captxt] at (820pt,588pt) {(c) 1Y1Y Kurtosis};
\node[captxt] at (168pt,299pt) {(d) 1Y10Y Expectation};
\node[captxt] at (493pt,299pt) {(e) 1Y10Y Skewness};
\node[captxt] at (821pt,299pt) {(f) 1Y1Y Kurtosis};
\node[captxt] at (165pt,9pt) {(g) 5Y5Y Expectation};
\node[captxt] at (490pt,9pt) {(h) 5Y5Y Skewness};
\node[captxt] at (821pt,9pt) {(i) 5Y5Y Kurtosis};
\end{tikzpicture}
\end{document}
